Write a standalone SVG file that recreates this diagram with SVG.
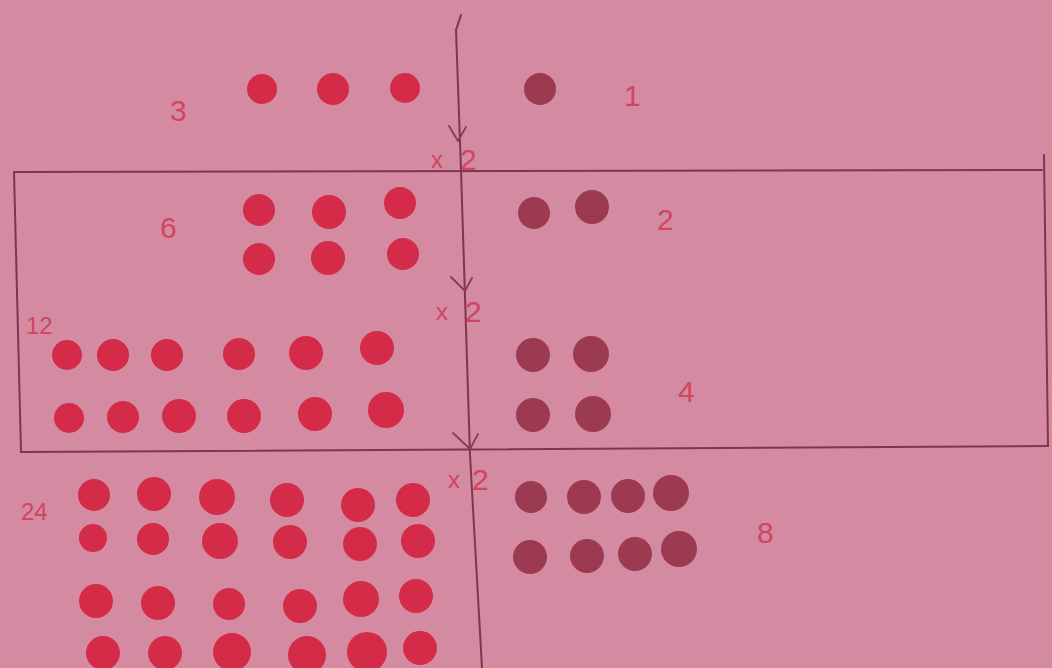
<svg xmlns="http://www.w3.org/2000/svg" width="1052" height="668" viewBox="0 0 1052 668">
<defs>
<style>
.bg{fill:#d48aa0}
.ink{fill:none;stroke:#7d3552;stroke-width:2;stroke-linecap:round;stroke-linejoin:round}
.arr{fill:none;stroke:#8a3a5a;stroke-width:1.8;stroke-linecap:round;stroke-linejoin:round}
.r{fill:#d42b48}
.d{fill:#9c3a52}
.lab{font-family:"Liberation Sans",Arial,sans-serif;fill:#d14560;font-size:30px}
.sm{font-family:"Liberation Sans",Arial,sans-serif;fill:#d14560;font-size:24px}
</style>
</defs>
<rect class="bg" x="0" y="0" width="1052" height="668"/>
<g id="frame">
<path class="ink" d="M14,172 L1042,170"/>
<path class="ink" d="M14,172 L21,452"/>
<path class="ink" d="M21,452 L1048,446"/>
<path class="ink" d="M1044,155 L1048,446"/>
</g>
<g id="connectors">
<path class="ink" d="M456,30 L461,170 L470,455 L482,668"/>
<path class="ink" d="M456,30 L461,15"/>
<path class="arr" d="M449,126 L458,141 L466,127"/>
<path class="arr" d="M451,277 L465,291 L472,278"/>
<path class="arr" d="M453,433 L470,449 L478,434"/>
<text class="sm" x="431" y="168">x</text>
<text class="lab" x="460" y="170">2</text>
<text class="sm" x="436" y="320">x</text>
<text class="lab" x="465" y="322">2</text>
<text class="sm" x="448" y="488">x</text>
<text class="lab" x="472" y="490">2</text>
</g>
<g id="n3">
<text class="lab" x="170" y="121">3</text>
<circle class="r" cx="262" cy="89" r="15"/>
<circle class="r" cx="333" cy="89" r="16"/>
<circle class="r" cx="405" cy="88" r="15"/>
</g>
<g id="n1">
<circle class="d" cx="540" cy="89" r="16"/>
<text class="lab" x="624" y="106">1</text>
</g>
<g id="n6">
<text class="lab" x="160" y="238">6</text>
<circle class="r" cx="259" cy="210" r="16"/>
<circle class="r" cx="329" cy="212" r="17"/>
<circle class="r" cx="400" cy="203" r="16"/>
<circle class="r" cx="259" cy="259" r="16"/>
<circle class="r" cx="328" cy="258" r="17"/>
<circle class="r" cx="403" cy="254" r="16"/>
</g>
<g id="n2">
<circle class="d" cx="534" cy="213" r="16"/>
<circle class="d" cx="592" cy="207" r="17"/>
<text class="lab" x="657" y="230">2</text>
</g>
<g id="n12">
<text class="sm" x="26" y="334">12</text>
<circle class="r" cx="67" cy="355" r="15"/>
<circle class="r" cx="113" cy="355" r="16"/>
<circle class="r" cx="167" cy="355" r="16"/>
<circle class="r" cx="239" cy="354" r="16"/>
<circle class="r" cx="306" cy="353" r="17"/>
<circle class="r" cx="377" cy="348" r="17"/>
<circle class="r" cx="69" cy="418" r="15"/>
<circle class="r" cx="123" cy="417" r="16"/>
<circle class="r" cx="179" cy="416" r="17"/>
<circle class="r" cx="244" cy="416" r="17"/>
<circle class="r" cx="315" cy="414" r="17"/>
<circle class="r" cx="386" cy="410" r="18"/>
</g>
<g id="n4">
<circle class="d" cx="533" cy="355" r="17"/>
<circle class="d" cx="591" cy="354" r="18"/>
<circle class="d" cx="533" cy="415" r="17"/>
<circle class="d" cx="593" cy="414" r="18"/>
<text class="lab" x="678" y="402">4</text>
</g>
<g id="n24">
<text class="sm" x="21" y="520">24</text>
<circle class="r" cx="94" cy="495" r="16"/>
<circle class="r" cx="154" cy="494" r="17"/>
<circle class="r" cx="217" cy="497" r="18"/>
<circle class="r" cx="287" cy="500" r="17"/>
<circle class="r" cx="358" cy="505" r="17"/>
<circle class="r" cx="413" cy="500" r="17"/>
<circle class="r" cx="93" cy="538" r="14"/>
<circle class="r" cx="153" cy="539" r="16"/>
<circle class="r" cx="220" cy="541" r="18"/>
<circle class="r" cx="290" cy="542" r="17"/>
<circle class="r" cx="360" cy="544" r="17"/>
<circle class="r" cx="418" cy="541" r="17"/>
<circle class="r" cx="96" cy="601" r="17"/>
<circle class="r" cx="158" cy="603" r="17"/>
<circle class="r" cx="229" cy="604" r="16"/>
<circle class="r" cx="300" cy="606" r="17"/>
<circle class="r" cx="361" cy="599" r="18"/>
<circle class="r" cx="416" cy="596" r="17"/>
<circle class="r" cx="103" cy="653" r="17"/>
<circle class="r" cx="165" cy="653" r="17"/>
<circle class="r" cx="232" cy="652" r="19"/>
<circle class="r" cx="307" cy="655" r="19"/>
<circle class="r" cx="367" cy="652" r="20"/>
<circle class="r" cx="420" cy="648" r="17"/>
</g>
<g id="n8">
<circle class="d" cx="531" cy="497" r="16"/>
<circle class="d" cx="584" cy="497" r="17"/>
<circle class="d" cx="628" cy="496" r="17"/>
<circle class="d" cx="671" cy="493" r="18"/>
<circle class="d" cx="530" cy="557" r="17"/>
<circle class="d" cx="587" cy="556" r="17"/>
<circle class="d" cx="635" cy="554" r="17"/>
<circle class="d" cx="679" cy="549" r="18"/>
<text class="lab" x="757" y="543">8</text>
</g>
</svg>
